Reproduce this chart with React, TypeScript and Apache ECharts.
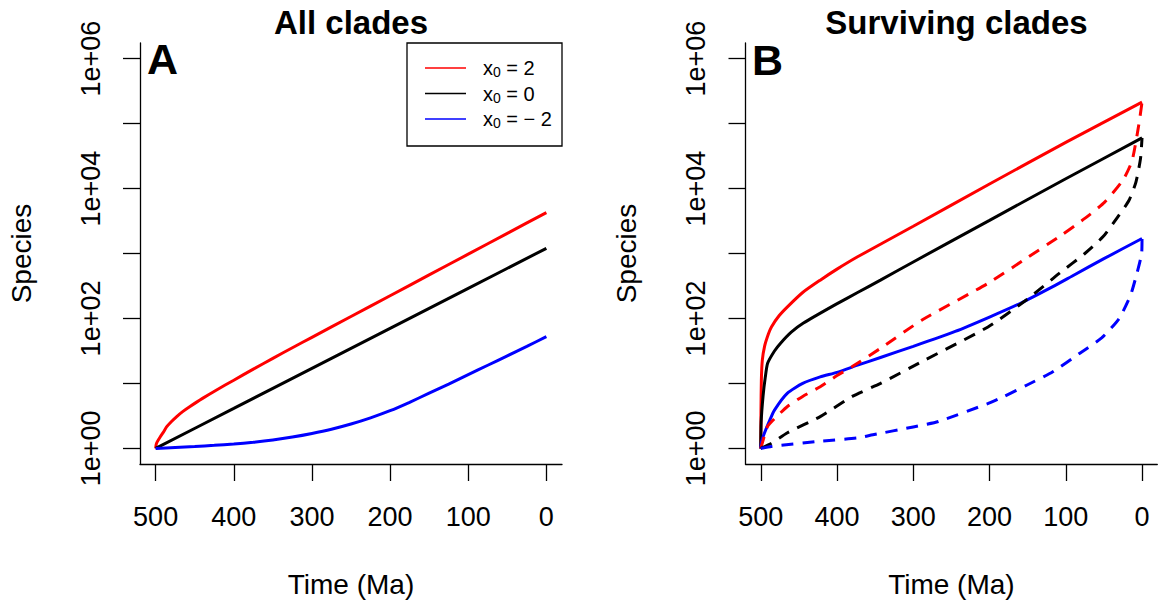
import React, { useEffect, useRef } from "react";
import * as echarts from "echarts";

// ---- Tick values ----
const xTicks = [0, 100, 200, 300, 400, 500];
const yTickExps = [0, 1, 2, 3, 4, 5, 6];
const yLabelExps = [0, 2, 4, 6];

// ---- Panel A: all clades (time in Ma, species count) ----
const timeA_red = [500, 499.3, 498, 494, 490, 486, 480, 473, 465, 456, 440, 422, 400, 375, 350, 325, 300, 250, 200, 150, 100, 50, 0];
const speciesA_red = [1, 1.148, 1.259, 1.514, 1.778, 2.138, 2.57, 3.09, 3.715, 4.416, 5.888, 7.943, 11.22, 16.6, 24.27, 35.48, 51.29, 107.2, 223.9, 467.7, 977.2, 2042, 4266];

const timeA_black = [500, 400, 300, 200, 100, 0];
const speciesA_black = [1, 4.13, 17.1, 70.5, 291, 1202];

const timeA_blue = [500, 475, 450, 425, 400, 375, 350, 325, 300, 275, 250, 225, 200, 175, 150, 125, 100, 75, 50, 25, 0];
const speciesA_blue = [1, 1.035, 1.072, 1.114, 1.169, 1.245, 1.349, 1.496, 1.698, 1.972, 2.371, 2.951, 3.802, 5.129, 7.079, 9.772, 13.65, 19.05, 26.61, 37.15, 52.48];

// ---- Panel B: surviving clades, solid lines ----
const timeB_red = [500, 499.7, 499.2, 498, 495, 490, 486, 476, 465, 445, 422, 400, 373, 300, 200, 100, 0];
const speciesB_red = [1, 3.98, 11.2, 22.4, 37.2, 57.5, 74.1, 110, 151, 251, 389, 575, 891, 2630, 11750, 51300, 213800];

const timeB_black = [500, 499.5, 497, 494, 491, 482, 474, 460, 444, 401, 373, 343, 300, 200, 100, 0];
const speciesB_black = [1, 2.51, 6.31, 12.6, 20.4, 31.6, 41.7, 61.7, 85.1, 166, 251, 389, 741, 3236, 14125, 60260];

const timeB_blue = [500, 499, 495, 488, 482, 465, 445, 422, 400, 373, 343, 300, 245, 200, 160, 117, 92, 50, 0];
const speciesB_blue = [1, 1.26, 1.74, 2.75, 3.89, 7.08, 10.0, 12.6, 14.8, 19.1, 25.1, 37.2, 63.1, 105, 170, 309, 447, 832, 1700];

// ---- Panel B: dashed lines ----
const timeB_redDash = [500, 497, 491, 480, 465, 445, 422, 400, 380, 343, 288, 202, 150, 106, 75, 49, 25, 13, 4, 0];
const speciesB_redDash = [1, 1.32, 2.19, 3.02, 4.42, 6.31, 8.91, 13.2, 18.2, 34.7, 95.5, 347, 871, 1905, 3467, 6166, 13490, 26920, 100000, 213800];

const timeB_blackDash = [500, 486, 465, 422, 380, 343, 288, 202, 150, 109, 75, 51, 32, 17, 8, 2, 0];
const speciesB_blackDash = [1, 1.2, 1.74, 3.09, 6.31, 10, 21.9, 74.1, 200, 490, 1000, 1820, 3631, 6607, 12590, 28840, 60260];

const timeB_blueDash = [500, 486, 422, 373, 353, 300, 267, 200, 181, 150, 117, 81, 53, 30, 15, 5, 0.5, 0];
const speciesB_blueDash = [1, 1.07, 1.29, 1.45, 1.62, 2.14, 2.6, 5.01, 6.31, 9.55, 15.1, 29.5, 50.1, 100, 229, 589, 1000, 1700];

const legendItems = [
  { sub: "0", rest: " = 2", color: "#ff0000" },
  { sub: "0", rest: " = 0", color: "#000000" },
  { sub: "0", rest: " = \u2212 2", color: "#0000ff" },
];

const FONT = "'Liberation Sans', Arial, Helvetica, sans-serif";
const RED = "#ff0000";
const BLUE = "#0000ff";
const BLACK = "#000000";

const toPts = (t: number[], s: number[]) => t.map((tt, i) => [tt, Math.log10(s[i])]);

function makeXAxis(gridIndex: number) {
  return {
    type: "value",
    gridIndex,
    min: -20,
    max: 520,
    inverse: true,
    name: "Time (Ma)",
    nameLocation: "middle",
    nameGap: 106,
    nameTextStyle: { fontFamily: FONT, fontSize: 28, color: BLACK },
    axisLine: { show: true, onZero: false, lineStyle: { color: BLACK, width: 1.3 } },
    axisTick: { show: true, length: 17, customValues: xTicks, lineStyle: { color: BLACK, width: 1.3 } },
    axisLabel: { customValues: xTicks, fontFamily: FONT, fontSize: 27, color: BLACK, margin: 39 },
    splitLine: { show: false },
  };
}

function makeYAxis(gridIndex: number) {
  return {
    type: "value",
    gridIndex,
    min: -0.24,
    max: 6.24,
    name: "Species",
    nameLocation: "middle",
    nameRotate: 90,
    nameGap: 105,
    nameTextStyle: { fontFamily: FONT, fontSize: 28, color: BLACK },
    axisLine: { show: true, onZero: false, lineStyle: { color: BLACK, width: 1.3 } },
    axisTick: { show: true, length: 17, customValues: yTickExps, lineStyle: { color: BLACK, width: 1.3 } },
    axisLabel: {
      customValues: yLabelExps,
      rotate: 90,
      fontFamily: FONT,
      fontSize: 27,
      color: BLACK,
      margin: 36,
      formatter: (v: number) => "1e+0" + Math.round(v),
    },
    splitLine: { show: false },
  };
}

function line(name: string, idx: number, t: number[], s: number[], color: string, dashed: boolean) {
  return {
    type: "line",
    name,
    xAxisIndex: idx,
    yAxisIndex: idx,
    data: toPts(t, s),
    showSymbol: false,
    symbol: "none",
    smooth: 0.2,
    silent: true,
    lineStyle: { color, width: 3, type: dashed ? [12, 9] : "solid", cap: "butt" },
    emphasis: { disabled: true },
  };
}

const GRID_A = { left: 140, top: 43, width: 422, height: 422 };
const GRID_B = { left: 745.5, top: 43, width: 422, height: 422 };

export default function App() {
  const ref = useRef<HTMLDivElement>(null);
  useEffect(() => {
    if (!ref.current) return;
    const chart = echarts.init(ref.current, null, { renderer: "svg" });
    const legendGraphics: any[] = [
      {
        type: "rect",
        shape: { x: 407, y: 43, width: 155, height: 103 },
        style: { fill: "#fff", stroke: BLACK, lineWidth: 1.3 },
        z: 100,
      },
    ];
    legendItems.forEach((it, i) => {
      const y = 68 + i * 25.5;
      legendGraphics.push({
        type: "line",
        shape: { x1: 425, y1: y, x2: 466, y2: y },
        style: { stroke: it.color, lineWidth: 1.5 },
        z: 101,
      });
      legendGraphics.push({
        type: "text",
        x: 483,
        y,
        style: {
          text: "{a|x}{b|" + it.sub + "}{a|" + it.rest + "}",
          verticalAlign: "middle",
          align: "left",
          rich: {
            a: { fontFamily: FONT, fontSize: 20, lineHeight: 22, fill: BLACK, verticalAlign: "middle" },
            b: { fontFamily: FONT, fontSize: 14, lineHeight: 14, fill: BLACK, verticalAlign: "bottom" },
          },
        },
        z: 101,
      });
    });
    chart.setOption({
      animation: false,
      backgroundColor: "#ffffff",
      grid: [GRID_A, GRID_B],
      xAxis: [makeXAxis(0), makeXAxis(1)],
      yAxis: [makeYAxis(0), makeYAxis(1)],
      series: [
        line("x0 = 2", 0, timeA_red, speciesA_red, RED, false),
        line("x0 = 0", 0, timeA_black, speciesA_black, BLACK, false),
        line("x0 = -2", 0, timeA_blue, speciesA_blue, BLUE, false),
        line("x0 = 2 (surviving)", 1, timeB_red, speciesB_red, RED, false),
        line("x0 = 0 (surviving)", 1, timeB_black, speciesB_black, BLACK, false),
        line("x0 = -2 (surviving)", 1, timeB_blue, speciesB_blue, BLUE, false),
        line("x0 = 2 (dashed)", 1, timeB_redDash, speciesB_redDash, RED, true),
        line("x0 = 0 (dashed)", 1, timeB_blackDash, speciesB_blackDash, BLACK, true),
        line("x0 = -2 (dashed)", 1, timeB_blueDash, speciesB_blueDash, BLUE, true),
      ],
      graphic: [
        {
          type: "text",
          x: 351,
          y: 22,
          style: { text: "All clades", font: "bold 33px " + FONT, fill: BLACK, align: "center", verticalAlign: "middle" },
        },
        {
          type: "text",
          x: 956.5,
          y: 22,
          style: { text: "Surviving clades", font: "bold 33px " + FONT, fill: BLACK, align: "center", verticalAlign: "middle" },
        },
        {
          type: "text",
          x: 147,
          y: 59,
          style: { text: "A", font: "bold 43px " + FONT, fill: BLACK, align: "left", verticalAlign: "middle" },
        },
        {
          type: "text",
          x: 752,
          y: 60,
          style: { text: "B", font: "bold 43px " + FONT, fill: BLACK, align: "left", verticalAlign: "middle" },
        },
        ...legendGraphics,
      ],
    });
    return () => chart.dispose();
  }, []);
  return (
    <div
      ref={ref}
      style={{ position: "absolute", left: 0, top: 0, width: 1162, height: 603, background: "#fff" }}
    />
  );
}
